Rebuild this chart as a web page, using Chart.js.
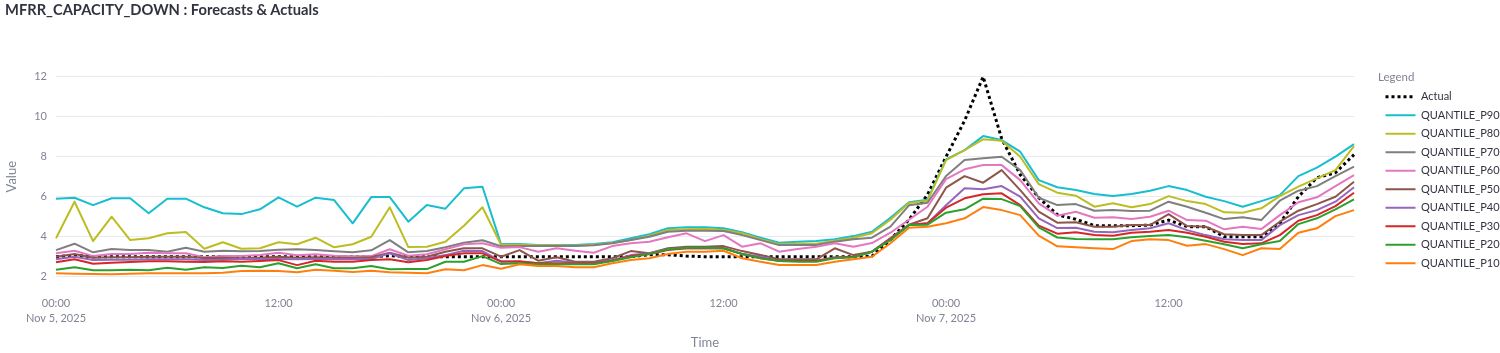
<!DOCTYPE html>
<html>
<head>
<meta charset="utf-8">
<script src="https://cdn.jsdelivr.net/npm/chart.js@4.4.1/dist/chart.umd.min.js"></script>
<style>
  html, body { margin: 0; padding: 0; background: #ffffff; }
  #wrap { position: relative; width: 1500px; height: 353px; overflow: hidden; }
  #title { position: absolute; left: 5px; top: 1px; font-family: Lato, "Open Sans", sans-serif; font-weight: 700; color: #31333F; white-space: nowrap; display: inline-block; line-height: 1.2; }
  canvas { position: absolute; left: 0; top: 0; }
</style>
</head>
<body>
<div id="wrap">
  <canvas id="c" width="1500" height="353"></canvas>
  <div id="title">MFRR_CAPACITY_DOWN : Forecasts &amp; Actuals</div>
</div>
<script>
// ---- categories (hourly timestamps) ----
const times = [
  "2025-11-05 00:00","2025-11-05 01:00","2025-11-05 02:00","2025-11-05 03:00","2025-11-05 04:00","2025-11-05 05:00",
  "2025-11-05 06:00","2025-11-05 07:00","2025-11-05 08:00","2025-11-05 09:00","2025-11-05 10:00","2025-11-05 11:00",
  "2025-11-05 12:00","2025-11-05 13:00","2025-11-05 14:00","2025-11-05 15:00","2025-11-05 16:00","2025-11-05 17:00",
  "2025-11-05 18:00","2025-11-05 19:00","2025-11-05 20:00","2025-11-05 21:00","2025-11-05 22:00","2025-11-05 23:00",
  "2025-11-06 00:00","2025-11-06 01:00","2025-11-06 02:00","2025-11-06 03:00","2025-11-06 04:00","2025-11-06 05:00",
  "2025-11-06 06:00","2025-11-06 07:00","2025-11-06 08:00","2025-11-06 09:00","2025-11-06 10:00","2025-11-06 11:00",
  "2025-11-06 12:00","2025-11-06 13:00","2025-11-06 14:00","2025-11-06 15:00","2025-11-06 16:00","2025-11-06 17:00",
  "2025-11-06 18:00","2025-11-06 19:00","2025-11-06 20:00","2025-11-06 21:00","2025-11-06 22:00","2025-11-06 23:00",
  "2025-11-07 00:00","2025-11-07 01:00","2025-11-07 02:00","2025-11-07 03:00","2025-11-07 04:00","2025-11-07 05:00",
  "2025-11-07 06:00","2025-11-07 07:00","2025-11-07 08:00","2025-11-07 09:00","2025-11-07 10:00","2025-11-07 11:00",
  "2025-11-07 12:00","2025-11-07 13:00","2025-11-07 14:00","2025-11-07 15:00","2025-11-07 16:00","2025-11-07 17:00",
  "2025-11-07 18:00","2025-11-07 19:00","2025-11-07 20:00","2025-11-07 21:00","2025-11-07 22:00"
];

// ---- tick labels ----
const tickAt = ["2025-11-05 00:00","2025-11-05 12:00","2025-11-06 00:00","2025-11-06 12:00","2025-11-07 00:00","2025-11-07 12:00"];
const tickText = [["00:00","Nov 5, 2025"],["12:00"],["00:00","Nov 6, 2025"],["12:00"],["00:00","Nov 7, 2025"],["12:00"]];
const yTicks = [2, 4, 6, 8, 10, 12];

// ---- series ----
const actual = [
  3.0,3.07,3.0,3.0,3.0,3.0,3.0,3.0,3.0,3.0,
  3.0,3.0,3.0,3.0,3.0,3.0,3.0,3.0,3.05,3.0,
  3.0,3.0,3.0,3.0,3.0,3.0,3.0,3.0,3.0,3.0,
  3.0,3.0,3.1,3.1,3.03,3.0,3.0,3.0,3.0,3.0,
  3.0,3.0,3.0,3.0,3.03,3.85,4.85,6.1,8.0,9.8,
  12.0,8.9,7.1,5.95,5.1,4.87,4.55,4.55,4.55,4.58,
  4.83,4.5,4.5,4.0,4.0,4.0,4.67,6.0,6.95,7.2,
  8.1
];
const p90 = [
  5.9,5.95,5.58,5.92,5.92,5.17,5.9,5.9,5.47,5.17,
  5.13,5.37,5.97,5.5,5.95,5.83,4.67,5.98,5.98,4.75,
  5.58,5.4,6.42,6.5,3.63,3.63,3.58,3.58,3.58,3.63,
  3.72,3.92,4.12,4.42,4.47,4.47,4.42,4.22,3.95,3.7,
  3.75,3.78,3.87,4.03,4.25,4.95,5.72,5.85,7.87,8.33,
  9.03,8.83,8.25,6.83,6.47,6.33,6.13,6.03,6.13,6.3,
  6.53,6.33,6.0,5.78,5.5,5.78,6.08,7.03,7.45,8.0,
  8.63
];
const p80 = [
  3.92,5.75,3.78,5.0,3.83,3.92,4.17,4.23,3.4,3.72,
  3.4,3.42,3.72,3.62,3.95,3.47,3.62,4.0,5.47,3.48,
  3.5,3.75,4.55,5.47,3.6,3.6,3.57,3.57,3.55,3.6,
  3.68,3.83,4.05,4.33,4.37,4.38,4.33,4.17,3.87,3.63,
  3.65,3.65,3.8,3.95,4.17,4.85,5.68,5.8,7.83,8.33,
  8.87,8.8,8.0,6.63,6.2,6.05,5.5,5.67,5.47,5.63,
  6.03,5.78,5.63,5.22,5.2,5.42,6.03,6.5,6.92,7.33,
  8.53
];
const p70 = [
  3.33,3.65,3.22,3.38,3.33,3.33,3.25,3.45,3.25,3.3,
  3.27,3.28,3.35,3.37,3.33,3.27,3.22,3.32,3.83,3.22,
  3.28,3.47,3.7,3.82,3.52,3.53,3.53,3.53,3.53,3.57,
  3.67,3.83,4.0,4.25,4.3,4.3,4.28,4.08,3.83,3.58,
  3.58,3.58,3.75,3.87,3.95,4.5,5.57,5.7,7.03,7.83,
  7.92,8.0,7.33,5.95,5.58,5.63,5.3,5.33,5.28,5.3,
  5.75,5.5,5.2,4.88,4.97,4.83,5.8,6.3,6.53,7.03,
  7.5
];
const p60 = [
  3.17,3.3,3.03,3.13,3.13,3.2,3.17,3.17,2.97,3.03,
  3.03,3.08,3.2,3.07,3.12,3.05,3.02,3.03,3.37,3.05,
  3.12,3.37,3.62,3.67,3.45,3.48,3.25,3.42,3.3,3.2,
  3.53,3.67,3.75,3.97,4.17,3.78,4.08,3.5,3.67,3.25,
  3.38,3.5,3.67,3.5,3.68,4.2,4.85,5.5,6.88,7.37,
  7.58,7.58,6.83,5.67,5.05,5.25,4.95,4.97,4.88,5.0,
  5.3,4.83,4.8,4.37,4.5,4.38,5.08,5.72,5.97,6.53,
  7.08
];
const p50 = [
  3.0,3.13,2.95,2.97,2.97,3.0,3.0,3.0,2.93,2.95,
  2.92,2.95,3.0,2.95,2.97,2.95,2.93,2.97,3.2,2.95,
  3.0,3.25,3.42,3.42,3.0,3.33,2.8,2.97,2.75,2.75,
  2.92,3.28,3.17,3.42,3.5,3.5,3.53,3.28,3.08,2.87,
  2.87,2.87,3.42,3.08,3.25,3.92,4.6,4.92,6.45,7.03,
  6.7,7.33,6.33,5.25,4.7,4.72,4.5,4.5,4.58,4.58,
  5.13,4.53,4.5,4.12,4.08,4.08,4.75,5.3,5.63,6.0,
  6.75
];
const p40 = [
  2.87,3.0,2.83,2.85,2.85,2.87,2.87,2.87,2.83,2.85,
  2.88,2.88,2.88,2.87,2.88,2.87,2.87,2.88,3.17,2.83,
  2.92,3.08,3.3,3.28,2.77,2.75,2.67,2.8,2.7,2.7,
  2.83,3.08,3.17,3.37,3.42,3.42,3.42,3.15,3.0,2.8,
  2.8,2.8,2.97,3.0,3.25,3.92,4.58,4.67,5.57,6.42,
  6.37,6.53,6.0,4.92,4.43,4.45,4.25,4.22,4.33,4.42,
  4.67,4.33,4.08,3.87,3.83,3.83,4.58,5.08,5.33,5.75,
  6.47
];
const p30 = [
  2.72,2.87,2.65,2.7,2.73,2.77,2.77,2.75,2.73,2.77,
  2.75,2.78,2.83,2.58,2.8,2.75,2.75,2.83,2.87,2.72,
  2.83,3.03,3.17,3.17,2.75,2.77,2.67,2.67,2.67,2.67,
  2.8,3.03,3.13,3.33,3.42,3.42,3.42,3.13,2.92,2.8,
  2.78,2.78,2.95,3.0,3.25,3.9,4.58,4.67,5.45,5.92,
  6.12,6.17,5.58,4.55,4.15,4.22,4.08,4.05,4.2,4.25,
  4.33,4.2,4.0,3.75,3.63,3.67,4.08,4.8,5.08,5.53,
  6.2
];
const p20 = [
  2.35,2.47,2.32,2.32,2.35,2.32,2.45,2.35,2.47,2.43,
  2.55,2.47,2.67,2.42,2.62,2.42,2.42,2.53,2.37,2.38,
  2.38,2.75,2.75,3.03,2.63,2.67,2.62,2.62,2.62,2.62,
  2.78,2.97,3.13,3.37,3.45,3.45,3.42,3.13,2.92,2.78,
  2.75,2.75,2.92,2.97,3.25,3.83,4.58,4.6,5.2,5.37,
  5.9,5.88,5.53,4.47,3.96,3.88,3.87,3.87,3.97,4.03,
  4.08,3.97,3.8,3.62,3.42,3.62,3.78,4.63,4.92,5.37,
  5.87
];
const p10 = [
  2.17,2.15,2.13,2.12,2.15,2.17,2.17,2.17,2.17,2.2,
  2.28,2.3,2.28,2.22,2.35,2.3,2.23,2.3,2.22,2.2,
  2.17,2.37,2.32,2.58,2.4,2.62,2.53,2.53,2.47,2.47,
  2.67,2.83,2.92,3.13,3.25,3.25,3.3,2.92,2.75,2.58,
  2.58,2.58,2.75,2.87,3.0,3.67,4.45,4.5,4.67,4.92,
  5.48,5.33,5.08,4.05,3.52,3.47,3.42,3.38,3.78,3.87,
  3.83,3.55,3.63,3.38,3.08,3.42,3.38,4.2,4.42,5.03,
  5.33
];

const seriesNames = ["Actual","QUANTILE_P90","QUANTILE_P80","QUANTILE_P70","QUANTILE_P60","QUANTILE_P50","QUANTILE_P40","QUANTILE_P30","QUANTILE_P20","QUANTILE_P10"];
const seriesData = [actual, p90, p80, p70, p60, p50, p40, p30, p20, p10];
const seriesColors = ["#000000","#17becf","#bcbd22","#7f7f7f","#e377c2","#8c564b","#9467bd","#d62728","#2ca02c","#ff7f0e"];

// ---- title fit ----
const titleEl = document.getElementById('title');
let fs = 17;
titleEl.style.fontSize = fs + 'px';
while (titleEl.getBoundingClientRect().width > 314 && fs > 10) { fs -= 0.1; titleEl.style.fontSize = fs + 'px'; }

const FONT = 'Lato, "Open Sans", sans-serif';
const TICK_COLOR = '#808495';
const LEGEND_X = 1378;
const CHART_RIGHT = 1354;

const legendPlace = {
  id: 'legendPlace',
  beforeLayout(chart) {
    const lg = chart.legend;
    if (lg && !lg._wrappedFit) {
      const orig = lg.fit;
      lg.fit = function () { orig.call(this); this.width = chart.width - CHART_RIGHT; };
      lg._wrappedFit = true;
    }
  },
  afterLayout(chart) {
    const lg = chart.legend;
    if (lg) {
      lg.left = LEGEND_X; lg.right = chart.width; lg.width = chart.width - LEGEND_X;
      lg.top = 0; lg.bottom = chart.height; lg.height = chart.height;
    }
  }
};

const datasets = seriesNames.map((name, i) => ({
  label: name,
  data: seriesData[i],
  borderColor: seriesColors[i],
  backgroundColor: seriesColors[i],
  borderWidth: i === 0 ? 3 : 2,
  borderDash: i === 0 ? [3, 3] : [],
  pointRadius: 0,
  pointHoverRadius: 0,
  pointStyle: 'line',
  tension: 0,
  borderJoinStyle: 'round',
  fill: false,
  order: -i
}));

function makeLegendLabels(chart) {
  const items = Chart.defaults.plugins.legend.labels.generateLabels(chart);
  items.forEach(it => {
    const ds = chart.data.datasets[it.datasetIndex];
    it.lineDash = ds.borderDash;
    it.lineWidth = ds.borderWidth;
    it.strokeStyle = ds.borderColor;
    it.fillStyle = ds.borderColor;
    it.lineCap = 'butt';
  });
  return items.sort((a, b) => a.datasetIndex - b.datasetIndex);
}

new Chart(document.getElementById('c'), {
  type: 'line',
  data: { labels: times, datasets },
  plugins: [legendPlace],
  options: {
    responsive: false,
    devicePixelRatio: 1,
    animation: false,
    layout: { padding: { top: 68.7, left: 0, right: 0, bottom: 0 } },
    plugins: {
      tooltip: { enabled: false },
      title: { display: false },
      legend: {
        display: true,
        position: 'right',
        align: 'start',
        title: {
          display: true,
          text: 'Legend',
          position: 'start',
          color: TICK_COLOR,
          font: { family: FONT, size: 11.5, lineHeight: 1 },
          padding: { top: 71.25, bottom: 1 }
        },
        labels: {
          usePointStyle: true,
          pointStyleWidth: 30,
          padding: 7.5,
          color: '#31333F',
          font: { family: FONT, size: 11 },
          generateLabels: makeLegendLabels
        }
      }
    },
    scales: {
      x: {
        type: 'category',
        offset: false,
        grid: { display: false, drawTicks: false },
        border: { display: false },
        ticks: {
          autoSkip: false,
          maxRotation: 0,
          minRotation: 0,
          padding: 11,
          color: TICK_COLOR,
          font: { family: FONT, size: 11, lineHeight: 1.4 },
          callback: function (value, index) {
            const k = tickAt.indexOf(times[index]);
            return k >= 0 ? tickText[k] : '';
          }
        },
        title: {
          display: true,
          text: 'Time',
          color: TICK_COLOR,
          font: { family: FONT, size: 13, lineHeight: 1.2 },
          padding: { top: 0, bottom: 2.2 }
        },
        afterFit: (scale) => { scale.height = 68.3; }
      },
      y: {
        type: 'linear',
        min: 1.6,
        max: 12.4,
        grid: { color: '#e6eaf1', lineWidth: 1, drawTicks: false },
        border: { display: false },
        afterBuildTicks: (scale) => { scale.ticks = yTicks.map(v => ({ value: v })); },
        ticks: {
          padding: 9,
          color: TICK_COLOR,
          font: { family: FONT, size: 11 },
          callback: (v) => String(v)
        },
        title: {
          display: true,
          text: 'Value',
          color: TICK_COLOR,
          font: { family: FONT, size: 13, lineHeight: 1.2 },
          padding: { top: 3.7, bottom: 0 }
        },
        afterFit: (scale) => { scale.width = 56; }
      }
    }
  }
});
</script>
</body>
</html>
